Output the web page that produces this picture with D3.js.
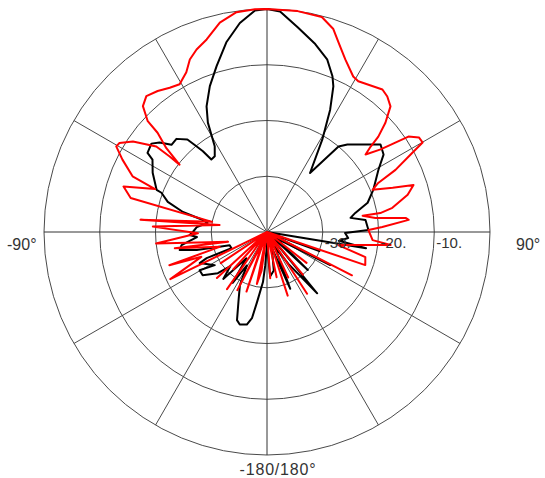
<!DOCTYPE html>
<html>
<head>
<meta charset="utf-8">
<script src="https://cdn.jsdelivr.net/npm/d3@7/dist/d3.min.js"></script>
<style>
  html, body { margin: 0; padding: 0; background: #fff; overflow: hidden; }
  svg { display: block; }
</style>
</head>
<body>
<svg id="chart" width="545" height="478"></svg>
<script>
// ---- data (angle in degrees, clockwise from top; gain in dB) ----
const ringValues = [-30, -20, -10, 0];
const ringLabels = ["-30.", "-20.", "-10."];
const spokeAngles = [0, 30, 60, 90, 120, 150];
const angleLabels = ["-90°", "90°", "-180/180°"];

const redAngles = [-177, -172, -169, -166, -161, -157, -153, -150, -145, -141, -138, -135, -132.6, -128, -124, -120,
  -116, -110.7, -108.8, -107.4, -100, -104, -95.9, -91.1, -87.3, -81.5, -84.5, -79.5, -76, -72.4, -69, -67.5,
  -63.4, -60.4, -58.9, -56, -52.3, -52.2, -52.4, -50.2, -47.8, -47.1, -44.6, -41.6, -37.8, -34, -30.6, -26.8,
  -24.1, -21.1, -17.4, -12.7, -7.9, -3.1, 0, 7.9, 14.3, 18.1, 20.6, 24.4, 29, 31.2, 39, 41.6, 44.5, 47.3,
  49.4, 50.5, 51.8, 54, 56, 58.1, 60.1, 61.4, 64.2, 66.2, 68.2, 70.6, 72.2, 75.2, 79.1, 80.5, 80.4, 82.6,
  84.2, 85.1, 87.5, 88.9, 94.4, 96, 100.4, 104.3, 108.6, 112, 117, 121, 128, 133, 140, 143, 147, 151, 155,
  158, 162, 165, 168, 171, 176, 179];
const redDb = [-40, -33, -30.5, -42, -28.7, -38, -28.3, -42, -27.5, -45, -31, -40, -27.8, -45, -30, -40,
  -20.7, -27.4, -21.5, -31.1, -23.2, -32.8, -20, -27.6, -19.5, -31.4, -17.2, -30, -14.8, -13, -18.5, -13.9,
  -11, -8.9, -9.1, -11, -14.9, -17.9, -20.2, -16.5, -13.5, -10.8, -8.3, -7.4, -8, -8.8, -9.2, -7.9,
  -6.1, -4.9, -3.8, -1.5, -0.2, 0, 0, 0, -0.2, -1.7, -3.6, -6, -8.1, -8.4, -7.1, -7.5, -8.4, -11.1,
  -13.7, -15.9, -17.5, -14.8, -9.4, -7.9, -7.8, -10.3, -14.4, -18.2, -19.6, -16.1, -12.4, -13.9, -17.1, -19.4, -22.6, -20.4,
  -15, -14.5, -19.3, -21.8, -21, -17.7, -27, -21.8, -21.4, -45, -22.9, -42, -31, -45, -30, -42, -26.8, -45, -31,
  -42, -28, -40, -31.7, -45, -31.7, -42];

const blackAngles = [-180, -177, -175.4, -171.9, -170.1, -167.7, -163.6, -161.2, -157, -153, -149, -146, -142, -137,
  -133, -130, -123.9, -119.6, -122.4, -114.8, -113.4, -114.6, -109.4, -104.4, -101.7, -98.7, -94.1, -92.2, -90,
  -85.9, -81.3, -79.4, -76.6, -73.1, -69.6, -69.1, -62.6, -57.7, -56.5, -52.6, -50.2, -47.6, -44.2, -40.7,
  -39.5, -38.4, -37.5, -34.6, -31.4, -28.4, -25.7, -21.4, -16.9, -12.1, -7.4, -3.1, 0, 3.4, 8.6, 14.4, 19.2,
  22.8, 24.5, 27.3, 30.9, 36.1, 39.9, 42.6, 52.4, 56.4, 60.8, 68.4, 73.8, 77.8, 80.4, 83, 88.9, 90.7, 94.2,
  97, 99.3, 103, 110, 113, 117.6, 124, 133, 136, 140.7, 146, 152, 157.7, 163, 170, 176];
const blackDb = [-38, -34, -31, -27.3, -24.3, -23, -22.7, -23.3, -27, -29.3, -33, -29, -34, -28.5,
  -31, -28.5, -26.1, -26.1, -28.9, -26.7, -28.2, -33, -32.9, -27, -24, -24.5, -27.4, -26.1, -26.7,
  -27.4, -29.2, -28.3, -24.5, -21.4, -19.8, -18.8, -16.9, -15.7, -14.3, -13.9, -14.9, -16.8, -16.7, -18.1,
  -20, -21.5, -23.6, -23.5, -22, -17.7, -15, -11.9, -8.9, -5.2, -2.2, -0.2, 0, -0.4, -2.9, -5.2, -7.2,
  -9.7, -11.3, -15.3, -20.7, -26.9, -20, -18.7, -14.3, -14.9, -17.1, -19.5, -21.2, -23.8, -24.8, -22.2, -21.8, -26, -25.4,
  -27, -22, -42, -30, -40, -27.2, -38, -30, -40, -25.8, -33, -37, -29, -37, -33, -32];

// ---- layout ----
const cx = 267, cy = 232, R = 223;
const font = "Liberation Sans, Arial, sans-serif";
const svg = d3.select("#chart");
const g = svg.append("g").attr("transform", `translate(${cx},${cy})`);

const r = d3.scaleLinear().domain([-40, 0]).range([0, R]).clamp(true);
const toRad = d => d * Math.PI / 180;

// grid circles
g.selectAll("circle.ring").data(ringValues).join("circle")
  .attr("class", "ring")
  .attr("r", d => r(d))
  .attr("fill", "none")
  .attr("stroke", "#4a4a4a")
  .attr("stroke-width", 1);

// spokes (full diameters)
g.selectAll("line.spoke").data(spokeAngles).join("line")
  .attr("class", "spoke")
  .attr("x1", d => -R * Math.sin(toRad(d)))
  .attr("y1", d => R * Math.cos(toRad(d)))
  .attr("x2", d => R * Math.sin(toRad(d)))
  .attr("y2", d => -R * Math.cos(toRad(d)))
  .attr("stroke", d => (d % 90 === 0 ? "#333" : "#4a4a4a"))
  .attr("stroke-width", 1);

// curves
const line = d3.lineRadial()
  .angle(d => toRad(d[0]))
  .radius(d => r(d[1]))
  .curve(d3.curveLinearClosed);

const blackPts = blackAngles.map((a, i) => [a, blackDb[i]]);
const redPts = redAngles.map((a, i) => [a, redDb[i]]);

g.append("path").datum(blackPts)
  .attr("d", line)
  .attr("fill", "none")
  .attr("stroke", "#000")
  .attr("stroke-width", 2)
  .attr("stroke-linejoin", "round");

g.append("path").datum(redPts)
  .attr("d", line)
  .attr("fill", "none")
  .attr("stroke", "#ff0000")
  .attr("stroke-width", 2)
  .attr("stroke-linejoin", "round");

// ring labels
g.selectAll("text.rl").data(ringLabels).join("text")
  .attr("class", "rl")
  .attr("x", (d, i) => r(ringValues[i]) + 2)
  .attr("y", 16)
  .attr("font-family", font)
  .attr("font-size", 15)
  .attr("fill", "#333")
  .text(d => d);

// angle labels
svg.append("text").attr("x", 7).attr("y", 250)
  .attr("font-family", font).attr("font-size", 16).attr("fill", "#333").text(angleLabels[0]);
svg.append("text").attr("x", 516).attr("y", 250)
  .attr("font-family", font).attr("font-size", 16).attr("fill", "#333").text(angleLabels[1]);
svg.append("text").attr("x", 278).attr("y", 475).attr("text-anchor", "middle")
  .attr("font-family", font).attr("font-size", 16).attr("letter-spacing", 0.8)
  .attr("fill", "#333").text(angleLabels[2]);
</script>
</body>
</html>
